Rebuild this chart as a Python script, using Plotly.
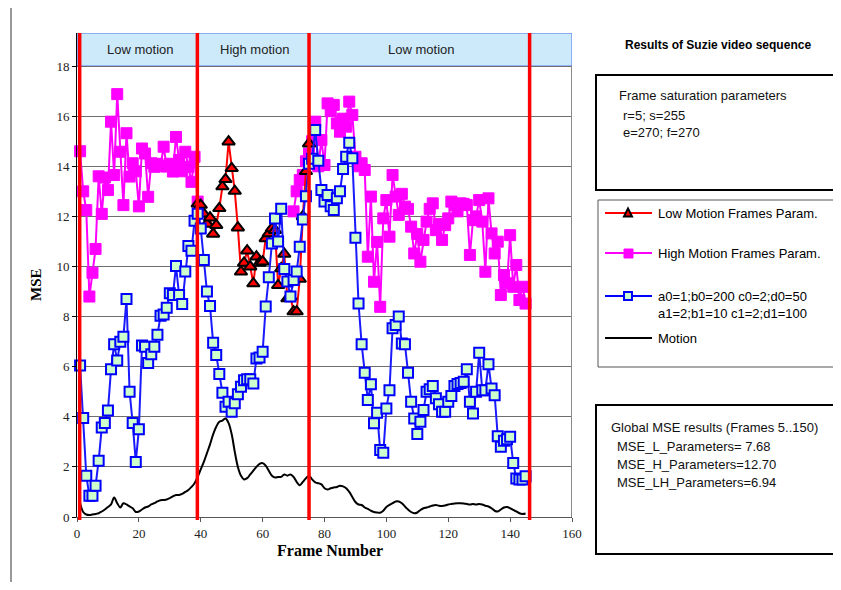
import plotly.graph_objects as go

# ---------------- data ----------------
blue_frames = list(range(1, 146))
blue_mse = [6.05, 3.95, 1.65, 0.85, 0.85, 1.25, 2.25, 3.57, 3.75, 4.25,
            5.9, 6.9, 6.25, 7.0, 7.2, 8.7, 5.0, 3.75, 2.2, 3.5,
            6.85, 6.8, 6.15, 6.5, 6.8, 7.27, 8.03, 8.08, 8.35, 8.93,
            8.86, 10.02, 8.86, 8.5, 9.8, 10.82, 10.63, 11.83, 12.1, 11.52,
            10.26, 9.0, 8.42, 6.96, 6.47, 5.71, 4.96, 4.4, 4.6, 4.2,
            4.54, 4.9, 5.2, 5.46, 5.5, 5.5, 5.33, 6.33, 6.37, 6.6,
            8.4, 9.57, 10.92, 11.92, 11.0, 12.3, 9.9, 9.4, 8.8, 9.46,
            9.8, 10.79, 11.88, 12.8, 14.1, 14.3, 15.45, 14.22, 13.05, 12.59,
            12.85, 12.4, 12.25, 12.72, 13.0, 13.89, 14.38, 14.94, 14.32, 11.15,
            8.52, 6.9, 5.76, 4.67, 5.3, 3.74, 4.16, 2.67, 2.56, 4.33,
            5.06, 7.53, 7.66, 8.0, 6.93, 6.9, 5.76, 4.6, 3.93, 3.31,
            3.8, 4.27, 5.0, 5.1, 5.23, 4.74, 4.5, 4.2, 4.2, 4.6,
            4.83, 5.23, 5.31, 5.35, 5.4, 5.9, 4.6, 4.13, 5.0, 6.56,
            5.06, 5.06, 6.1, 5.13, 4.86, 3.22, 2.8, 3.04, 3.1, 3.2,
            2.16, 1.54, 1.5, 1.5, 1.63]

high_frames_a = list(range(1, 40))
high_mse_a = [14.6, 13.0, 12.25, 8.8, 9.75, 10.7, 13.6, 12.1, 13.55, 13.05,
              15.78, 13.65, 16.88, 14.58, 12.45, 15.32, 13.59, 14.12, 13.8, 12.4,
              14.71, 14.51, 12.78, 14.12, 13.98, 14.1, 14.0, 14.78, 13.99, 14.1,
              13.79, 15.17, 14.25, 13.8, 14.58, 13.98, 13.38, 14.38, 12.59]
high_frames_b = list(range(70, 146))
high_mse_b = [12.2, 13.0, 13.45, 13.65, 14.2, 14.5, 15.0, 15.78, 14.0, 15.05,
              14.05, 16.51, 16.2, 16.45, 15.71, 15.38, 15.9, 15.58, 16.58, 16.05,
              14.38, 14.0, 14.12, 13.85, 10.39, 12.79, 9.39, 10.98, 8.39, 11.92,
              12.65, 11.19, 13.65, 12.79, 12.06, 12.9, 12.39, 12.3, 11.59, 10.52,
              11.3, 10.19, 11.06, 11.79, 12.3, 12.52, 11.45, 11.7, 11.06, 11.65,
              11.92, 12.59, 12.45, 12.2, 12.52, 12.5, 12.45, 10.46, 11.85, 12.0,
              12.65, 11.79, 9.79, 12.72, 11.32, 10.52, 10.99, 8.86, 9.66, 9.33,
              11.25, 9.19, 10.06, 8.66, 9.19, 8.52]

low_frames = list(range(39, 76))
low_mse = [12.5, 12.45, 12.1, 11.7, 11.95, 11.3, 11.65, 12.32, 13.19, 13.48,
           14.98, 13.92, 13.01, 11.55, 9.79, 10.14, 10.63, 9.99, 9.32, 10.39,
           10.14, 10.19, 11.12, 11.32, 11.52, 11.45, 9.25, 9.92, 10.5, 8.72,
           8.79, 8.2, 8.2, 9.5, 12.0, 13.8, 14.9]

motion_frames = list(range(1, 146))
motion = [0.55, 0.2, 0.1, 0.08, 0.1, 0.12, 0.15, 0.22, 0.3, 0.4,
          0.5, 0.78, 0.55, 0.38, 0.55, 0.5, 0.42, 0.35, 0.2, 0.22,
          0.3, 0.38, 0.42, 0.5, 0.55, 0.62, 0.67, 0.68, 0.7, 0.75,
          0.82, 0.88, 0.88, 0.92, 1.0, 1.08, 1.2, 1.35, 1.6, 1.9,
          2.2, 2.55, 2.9, 3.3, 3.6, 3.8, 3.85, 3.93, 3.75, 3.3,
          2.6, 2.0, 1.65, 1.5, 1.55, 1.7, 1.85, 2.0, 2.12, 2.15,
          2.05, 1.85, 1.65, 1.58, 1.6, 1.6, 1.7, 1.65, 1.7, 1.6,
          1.4, 1.27, 1.4, 1.55, 1.65, 1.5, 1.38, 1.35, 1.3, 1.15,
          1.1, 1.15, 1.18, 1.2, 1.25, 1.22, 1.15, 1.0, 0.8, 0.6,
          0.5, 0.48, 0.38, 0.32, 0.25, 0.2, 0.18, 0.17, 0.25, 0.4,
          0.48, 0.55, 0.62, 0.62, 0.55, 0.42, 0.3, 0.2, 0.15, 0.18,
          0.28, 0.35, 0.38, 0.42, 0.46, 0.48, 0.45, 0.44, 0.46, 0.5,
          0.52, 0.54, 0.55, 0.55, 0.54, 0.52, 0.5, 0.52, 0.5, 0.52,
          0.5, 0.45, 0.42, 0.35, 0.25, 0.22, 0.3, 0.38, 0.4, 0.35,
          0.28, 0.22, 0.15, 0.12, 0.14]

boundaries = [0.87, 38.9, 75.0, 146.3]
band_labels = ["Low motion", "High motion", "Low motion"]
band_label_x = [20.3, 57.4, 111.3]
y_ticks = [0, 2, 4, 6, 8, 10, 12, 14, 16, 18]
x_ticks = [0, 20, 40, 60, 80, 100, 120, 140, 160]

legend_names = ["Low Motion Frames Param.", "High Motion Frames Param.",
                "a0=1;b0=200 c0=2;d0=50", "a1=2;b1=10 c1=2;d1=100", "Motion"]
box1_lines = ["Frame saturation parameters", "r=5; s=255", "e=270; f=270"]
box3_lines = ["Global MSE results (Frames 5..150)", "MSE_L_Parameters= 7.68",
              "MSE_H_Parameters=12.70", "MSE_LH_Parameters=6.94"]

# ---------------- layout geometry (screen pixels, page has 8px body margin) ----------------
OFF = 8
W, H = 841 - 2 * OFF, 590 - 2 * OFF
PLOT_L, PLOT_R, PLOT_T, PLOT_B = 77, 572, 33, 517   # screen px
L, R, T, B = PLOT_L - OFF, W - (PLOT_R - OFF), PLOT_T - OFF, H - (PLOT_B - OFF)
PW, PH = W - L - R, H - T - B
Y_TOP = 19.32


def px(x):
    return (x - PLOT_L) / PW


def py(y):
    return (PLOT_B - y) / PH


fig = go.Figure()

fig.add_trace(go.Scatter(
    x=high_frames_a + [None] + high_frames_b,
    y=high_mse_a + [None] + high_mse_b,
    mode="lines+markers", name=legend_names[1], connectgaps=False,
    line=dict(color="#ff00ff", width=2),
    marker=dict(symbol="square", size=11, color="#ff00ff",
                line=dict(color="#ff00ff", width=1)),
    cliponaxis=False))

fig.add_trace(go.Scatter(
    x=low_frames, y=low_mse, mode="lines+markers", name=legend_names[0],
    line=dict(color="#ff0000", width=2),
    marker=dict(symbol="triangle-up", size=11, color="#ff0000",
                line=dict(color="#000000", width=2)),
    cliponaxis=False))

fig.add_trace(go.Scatter(
    x=blue_frames, y=blue_mse, mode="lines+markers", name=legend_names[2],
    line=dict(color="#1a1aff", width=2),
    marker=dict(symbol="square", size=10, color="#ccffcc",
                line=dict(color="#0000ff", width=2)),
    cliponaxis=False))

fig.add_trace(go.Scatter(
    x=motion_frames, y=motion, mode="lines", name=legend_names[4],
    line=dict(color="#000000", width=2), line_shape="spline"))

shapes = []
shapes.append(dict(type="rect", xref="x", yref="y", x0=0, x1=160, y0=18, y1=Y_TOP,
                   fillcolor="#cdeafb", line=dict(color="#4a72f0", width=1), layer="below"))
shapes.append(dict(type="line", xref="x", yref="y", x0=160, x1=160, y0=0, y1=18,
                   line=dict(color="#8a8a8a", width=2)))
for b in boundaries:
    shapes.append(dict(type="line", xref="x", yref="paper", x0=b, x1=b,
                       y0=py(520), y1=1.0, line=dict(color="#ff0000", width=3.5)))
shapes.append(dict(type="line", xref="paper", yref="paper", x0=px(11), x1=px(11),
                   y0=py(592), y1=py(0), line=dict(color="#333333", width=1)))


def open_box(x0, y0, y1, color, width):
    # top, left and bottom edges; the right edge lies beyond the page
    xe = 850
    path = "M {} {} L {} {} L {} {} L {} {}".format(
        px(xe), py(y0), px(x0), py(y0), px(x0), py(y1), px(xe), py(y1))
    return dict(type="path", xref="paper", yref="paper", path=path,
                line=dict(color=color, width=width))


shapes.append(open_box(596, 75, 190, "#000000", 2))
shapes.append(open_box(598, 200, 367, "#555555", 1))
shapes.append(open_box(596, 405, 554, "#000000", 2))

leg_y = [213, 253, 296, 338]
leg_cols = ["#ff0000", "#ff00ff", "#0000ff", "#000000"]
for yy, c in zip(leg_y, leg_cols):
    shapes.append(dict(type="line", xref="paper", yref="paper", x0=px(605), x1=px(652),
                       y0=py(yy), y1=py(yy), line=dict(color=c, width=2)))
cx, cy = 628, 213
shapes.append(dict(type="path", xref="paper", yref="paper",
                   path="M {} {} L {} {} L {} {} Z".format(px(cx - 4), py(cy + 3.5), px(cx + 4), py(cy + 3.5), px(cx), py(cy - 4.5)),
                   fillcolor="#ff0000", line=dict(color="#000000", width=2)))
shapes.append(dict(type="rect", xref="paper", yref="paper", x0=px(624), x1=px(633),
                   y0=py(258), y1=py(249), fillcolor="#ff00ff", line=dict(color="#ff00ff", width=1)))
shapes.append(dict(type="rect", xref="paper", yref="paper", x0=px(624), x1=px(632),
                   y0=py(300), y1=py(292), fillcolor="#ccffcc", line=dict(color="#0000ff", width=2)))


def ann(x, y, text, size, family, xanchor="center", color="#000000", xref="paper", yref="paper", **kw):
    return dict(x=x, y=y, xref=xref, yref=yref, text=text, showarrow=False,
                xanchor=xanchor, yanchor="middle",
                font=dict(family=family, size=size, color=color), **kw)


SANS = "Liberation Sans, Arial"
NARROW = "Liberation Sans Narrow, Arial Narrow, Liberation Sans, Arial"
SERIF = "Liberation Serif, Times New Roman"

annotations = []
for lab, lx in zip(band_labels, band_label_x):
    annotations.append(ann(lx, 18.66, lab, 13, SANS, color="#222222", xref="x", yref="y"))
annotations.append(ann(px(718), py(45), "<b>Results of Suzie video sequence</b>", 12, SANS))
for i, (t, yy) in enumerate(zip(box1_lines, [96, 115, 133])):
    annotations.append(ann(px(617 if i == 0 else 621), py(yy), t, 13, NARROW, xanchor="left", color="#111111"))
for i, (t, yy) in enumerate(zip(box3_lines, [427, 446, 464, 482])):
    annotations.append(ann(px(609 if i == 0 else 615), py(yy), t, 13, NARROW, xanchor="left", color="#111111"))
for t, yy in zip(legend_names, [213, 253, 296, 313, 338]):
    annotations.append(ann(px(656), py(yy), t, 13, SANS, xanchor="left"))
annotations.append(ann(px(36), py(285), "<b>MSE</b>", 15, SERIF, textangle=-90))
annotations.append(ann(px(330), py(550), "<b>Frame Number</b>", 16, SERIF))

fig.update_layout(
    width=W, height=H, margin=dict(l=L, r=R, t=T, b=B, pad=0),
    paper_bgcolor="#ffffff", plot_bgcolor="#ffffff", showlegend=False,
    shapes=shapes, annotations=annotations,
    xaxis=dict(range=[0, 160], tickvals=x_ticks, showgrid=False, zeroline=False,
               showline=True, linecolor="#555555", linewidth=1, ticks="outside",
               ticklen=4, tickcolor="#555555",
               tickfont=dict(family=SERIF, size=13, color="#222222")),
    yaxis=dict(range=[0, Y_TOP], tickvals=y_ticks, showgrid=True, gridcolor="#6e6e6e",
               gridwidth=1, zeroline=False, showline=True, linecolor="#000000", linewidth=1,
               ticks="outside", ticklen=4, tickcolor="#000000",
               tickfont=dict(family=SERIF, size=13, color="#222222")),
)

fig.write_html("out.html")
